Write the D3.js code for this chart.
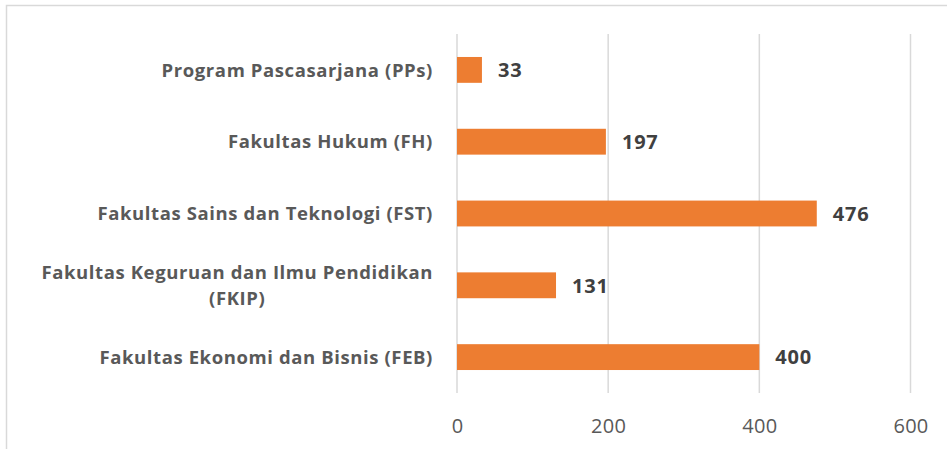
<!DOCTYPE html>
<html>
<head>
<meta charset="utf-8">
<script src="https://cdn.jsdelivr.net/npm/d3@7"></script>
<style>
  body { margin: 0; background: #fff; }
  svg { display: block; font-family: "Open Sans", sans-serif; }
</style>
</head>
<body>
<div id="chart"></div>
<script>
// data, top to bottom
var categories = [
    "Program Pascasarjana (PPs)",
    "Fakultas Hukum (FH)",
    "Fakultas Sains dan Teknologi (FST)",
    "Fakultas Keguruan dan Ilmu Pendidikan|(FKIP)",
    "Fakultas Ekonomi dan Bisnis (FEB)"
];
var values = [33, 197, 476, 131, 400];
var tickValues = [0, 200, 400, 600];

var width = 947, height = 449;
var margin = {top: 34, right: 36, bottom: 56, left: 457};

var svg = d3.select("#chart").append("svg")
    .attr("width", width)
    .attr("height", height);

// chart border (cropped on right and bottom)
svg.append("rect")
    .attr("x", 6.5).attr("y", 5.5)
    .attr("width", width + 10).attr("height", height + 10)
    .attr("fill", "none")
    .attr("stroke", "#d9d9d9")
    .attr("stroke-width", 1.5);

var x = d3.scaleLinear()
    .domain([0, 600])
    .range([margin.left, 910.5]);

var y = d3.scaleBand()
    .domain(categories)
    .range([margin.top, height - margin.bottom])
    .paddingInner(0.64)
    .paddingOuter(0.32);

// gridlines
svg.append("g").selectAll("line")
    .data(tickValues)
    .enter().append("line")
    .attr("x1", function(d) { return x(d); })
    .attr("x2", function(d) { return x(d); })
    .attr("y1", margin.top)
    .attr("y2", height - margin.bottom)
    .attr("stroke", "#d9d9d9")
    .attr("stroke-width", 1.5);

// x axis labels
var xAxis = d3.axisBottom(x).tickValues(tickValues).tickSize(0).tickPadding(0);
var gx = svg.append("g")
    .attr("transform", "translate(0," + 433 + ")")
    .call(xAxis);
gx.select(".domain").remove();
gx.selectAll("text")
    .attr("dy", 0)
    .attr("font-size", 20)
    .attr("letter-spacing", 0.3)
    .attr("font-family", "'Open Sans', sans-serif")
    .attr("fill", "#595959");

// bars
svg.append("g").selectAll("rect")
    .data(values)
    .enter().append("rect")
    .attr("x", x(0))
    .attr("y", function(d, i) { return y(categories[i]); })
    .attr("width", function(d) { return x(d) - x(0); })
    .attr("height", y.bandwidth())
    .attr("fill", "#ed7d31");

// value labels
svg.append("g").selectAll("text")
    .data(values)
    .enter().append("text")
    .attr("x", function(d) { return x(d) + 16; })
    .attr("y", function(d, i) { return y(categories[i]) + y.bandwidth() / 2; })
    .attr("dy", "0.36em")
    .attr("font-size", 20)
    .attr("letter-spacing", 0.8)
    .attr("font-weight", "bold")
    .attr("fill", "#404040")
    .text(function(d) { return d; });

// category labels, right aligned block with centered lines
var labelRight = 433;
categories.forEach(function(c, i) {
    var lines = c.split("|");
    var cy = y(c) + y.bandwidth() / 2;
    var lineH = 26;
    var g = svg.append("g");
    var texts = g.selectAll("text")
        .data(lines)
        .enter().append("text")
        .attr("y", function(d, j) { return cy + (j - (lines.length - 1) / 2) * lineH; })
        .attr("dy", "0.36em")
        .attr("font-size", 18.5)
        .attr("letter-spacing", 0.6)
        .attr("font-weight", "bold")
        .attr("fill", "#595959")
        .attr("text-anchor", "middle")
        .text(function(d) { return d; });
    var maxW = 0;
    texts.each(function() { maxW = Math.max(maxW, this.getComputedTextLength()); });
    texts.attr("x", labelRight - maxW / 2);
});
</script>
</body>
</html>
